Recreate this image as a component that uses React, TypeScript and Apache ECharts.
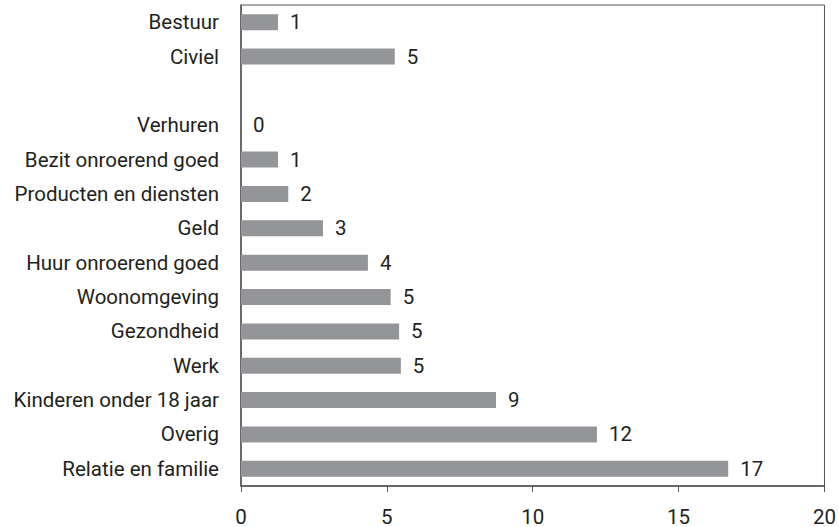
import React, { useEffect, useRef } from "react";
import * as echarts from "echarts";

const categories = [
  "Bestuur",
  "Civiel",
  "",
  "Verhuren",
  "Bezit onroerend goed",
  "Producten en diensten",
  "Geld",
  "Huur onroerend goed",
  "Woonomgeving",
  "Gezondheid",
  "Werk",
  "Kinderen onder 18 jaar",
  "Overig",
  "Relatie en familie",
];

const values: (number | null)[] = [
  1.27, 5.27, null, 0, 1.27, 1.62, 2.81, 4.35, 5.13, 5.42, 5.48, 8.74, 12.2, 16.7,
];

const xTicks = [0, 5, 10, 15, 20];

const FONT = "Roboto, 'Liberation Sans', sans-serif";
const TEXT = "#231f20";
const FS = 20.5;

export default function App() {
  const ref = useRef<HTMLDivElement>(null);
  useEffect(() => {
    if (!ref.current) return;
    const chart = echarts.init(ref.current, undefined, { renderer: "svg" });
    chart.setOption({
      animation: false,
      backgroundColor: "#ffffff",
      grid: {
        left: 241,
        right: 9,
        top: 5,
        bottom: 38,
        show: true,
        borderColor: "#555555",
        borderWidth: 1,
      },
      xAxis: {
        type: "value",
        min: xTicks[0],
        max: xTicks[xTicks.length - 1],
        interval: 5,
        axisLine: { show: true, lineStyle: { color: "#555555", width: 1.5 } },
        axisTick: { show: true, length: 6, lineStyle: { color: "#555555" } },
        splitLine: { show: false },
        axisLabel: {
          color: TEXT,
          fontSize: FS,
          fontFamily: FONT,
          margin: 20,
        },
      },
      yAxis: {
        type: "category",
        inverse: true,
        data: categories,
        axisLine: { show: true, onZero: false, lineStyle: { color: "#555555", width: 1.5 } },
        axisTick: { show: false },
        axisLabel: {
          color: TEXT,
          fontSize: FS,
          fontFamily: FONT,
          margin: 22,
        },
      },
      series: [
        {
          type: "bar",
          data: values.map((v) => (v === null ? "-" : v)),
          barWidth: 16,
          itemStyle: { color: "#939598" },
          label: {
            show: true,
            position: "right",
            distance: 12,
            color: TEXT,
            fontSize: FS,
            fontFamily: FONT,
            formatter: (p: any) =>
              typeof p.value === "number" ? String(Math.round(p.value)) : "",
          },
        },
      ],
    });
    return () => chart.dispose();
  }, []);
  return (
    <div
      ref={ref}
      style={{ position: "fixed", left: 0, top: 0, width: 839, height: 527 }}
    />
  );
}
